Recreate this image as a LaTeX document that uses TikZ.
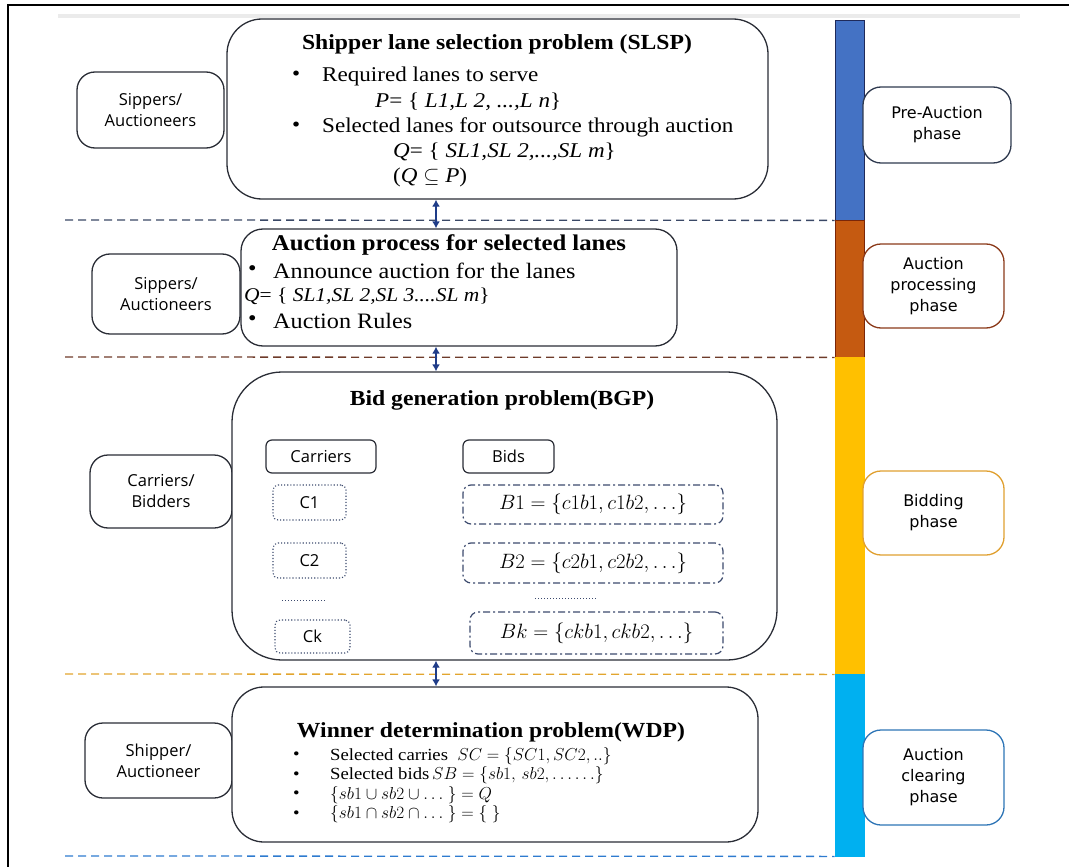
\documentclass[tikz,border=0pt]{standalone}
\usepackage{fontspec}
\setmainfont{Liberation Serif}[FakeStretch=1.1]
\newfontfamily\labelfont{Open Sans}
\newfontfamily\phasefont{DejaVu Sans}
\usetikzlibrary{arrows.meta}

\definecolor{boxline}{HTML}{2A2D36}
\definecolor{arrowblue}{HTML}{1F3C88}
\definecolor{barblue}{HTML}{4472C4}
\definecolor{barorange}{HTML}{C55A11}
\definecolor{baryellow}{HTML}{FFC000}
\definecolor{barcyan}{HTML}{00B0F0}
\definecolor{navyedge}{HTML}{1F2A5A}
\definecolor{rustedge}{HTML}{7A2608}
\definecolor{dashnavy}{HTML}{3A4866}
\definecolor{dashrust}{HTML}{6E3B2A}
\definecolor{dashgold}{HTML}{E2A52E}
\definecolor{dashblue}{HTML}{2E7BCF}
\definecolor{dotline}{HTML}{3C4A6E}
\definecolor{phasenavy}{HTML}{2F3A4F}
\definecolor{phaserust}{HTML}{8B3A1A}
\definecolor{phasegold}{HTML}{E0A030}
\definecolor{phaseblue}{HTML}{2E75B6}

\tikzset{
  mainbox/.style={draw=boxline, line width=1.3pt, rounded corners=#1, inner sep=0pt, fill=white},
  sidebox/.style={draw=boxline, line width=1.3pt, rounded corners=18pt, inner sep=0pt, fill=white,
    align=center, font=\labelfont\fontsize{16.5}{21}\selectfont},
  phasebox/.style={draw=#1, line width=1.3pt, rounded corners=18pt, inner sep=0pt, fill=white,
    align=center, font=\phasefont\fontsize{16}{21}\selectfont},
  barseg/.style={line width=0.8pt, inner sep=0pt, minimum width=29pt},
  divider/.style={line width=1.3pt, dash pattern=on 8pt off 5pt},
  biarrow/.style={draw=arrowblue, line width=1.3pt, {Latex[length=7pt,width=8pt]}-{Latex[length=7pt,width=8pt]}},
  titletext/.style={inner sep=0pt, font=\bfseries\fontsize{21.5}{25}\selectfont},
  bodytext/.style={inner sep=0pt, anchor=west, font=\fontsize{21}{25}\selectfont},
  auctext/.style={inner sep=0pt, anchor=west, font=\fontsize{22}{25}\selectfont},
  wdptext/.style={inner sep=0pt, anchor=west, font=\fontsize{17}{19}\selectfont},
  headbox/.style={draw=boxline, line width=1.2pt, rounded corners=6pt, inner sep=0pt,
    font=\labelfont\fontsize{16.5}{20}\selectfont},
  carrierbox/.style={draw=dotline, line width=1.1pt, dotted, rounded corners=5pt, inner sep=0pt,
    font=\labelfont\fontsize{16.5}{20}\selectfont},
  bidbox/.style={draw=dotline, line width=1.2pt, dash pattern=on 7pt off 3pt on 2pt off 3pt,
    rounded corners=8pt, inner sep=0pt, font=\fontsize{20.5}{24}\selectfont},
  ellipsisline/.style={draw=dotline, line width=1pt, dotted},
}

\begin{document}
\begin{tikzpicture}[x=1pt, y=-1pt]
\useasboundingbox (0,0) rectangle (1069,867);

% page frame and faint top rule
\coordinate (fTR) at (1069,5);
\coordinate (fTL) at (8,5);
\coordinate (fBL) at (8,867);
\draw[line width=1.5pt, black] (fTR) -- (fTL) -- (fBL);
\coordinate (gL) at (58,16);
\coordinate (gR) at (1020,16);
\draw[line width=4pt, black!8] (gL) -- (gR);

% phase bar
\node[barseg, fill=barblue, draw=navyedge, minimum height=200pt] (barA) at (849.5,120) {};
\node[barseg, fill=barorange, draw=rustedge, minimum height=137pt] (barB) at (849.5,288.5) {};
\node[barseg, fill=baryellow, draw=baryellow, minimum height=317pt] (barC) at (849.5,515.5) {};
\node[barseg, fill=barcyan, draw=barcyan, minimum height=182pt] (barD) at (849.5,765) {};

% phase dividers
\coordinate (dA) at (65,220);
\coordinate (dB) at (65,357);
\coordinate (dC) at (65,674);
\coordinate (dD) at (65,856);
\draw[divider, draw=dashnavy] (dA) -- (barA.south west);
\draw[divider, draw=dashrust] (dB) -- (barB.south west);
\draw[divider, draw=dashgold] (dC) -- (barC.south west);
\draw[divider, draw=dashblue] (dD) -- (barD.south west);

% phase labels
\node[phasebox=phasenavy, minimum width=148pt, minimum height=76pt] (phA) at (937,125) {Pre-Auction\\phase};
\node[phasebox=phaserust, minimum width=141pt, minimum height=84pt] (phB) at (933.5,286) {Auction\\processing\\phase};
\node[phasebox=phasegold, minimum width=141pt, minimum height=84pt] (phC) at (933.5,513) {Bidding\\phase};
\node[phasebox=phaseblue, minimum width=141pt, minimum height=95pt] (phD) at (933.5,777.5) {Auction\\clearing\\phase};

% actors
\node[sidebox, minimum width=147pt, minimum height=76pt] (actA) at (150.5,110) {Sippers/\\Auctioneers};
\node[sidebox, minimum width=148pt, minimum height=80pt] (actB) at (166,294) {Sippers/\\Auctioneers};
\node[sidebox, minimum width=142pt, minimum height=73pt] (actC) at (161,491.5) {Carriers/\\Bidders};
\node[sidebox, minimum width=147pt, minimum height=75pt] (actD) at (158.5,760.5) {Shipper/\\Auctioneer};

% stage boxes
\node[mainbox=35pt, minimum width=541pt, minimum height=180pt] (slsp) at (497.5,109) {};
\node[mainbox=22pt, minimum width=436pt, minimum height=117pt] (auc) at (459,287.5) {};
\node[mainbox=50pt, minimum width=545pt, minimum height=288pt] (bgp) at (504.5,516) {};
\node[mainbox=32pt, minimum width=526pt, minimum height=155pt] (wdp) at (495,764.5) {};

% links between stages
\coordinate (ax) at (436,0);
\draw[biarrow] (slsp.south -| ax) -- (auc.north -| ax);
\draw[biarrow] (auc.south -| ax) -- (bgp.north -| ax);
\draw[biarrow] (bgp.south -| ax) -- (wdp.north -| ax);

% shipper lane selection
\node[titletext] (slspT) at (497,44) {Shipper lane selection problem (SLSP)};
\node[bodytext] (slspB1) at (292,76) {\textbullet};
\node[bodytext] (slspL1) at (322,76) {Required lanes to serve};
\node[bodytext] (slspL2) at (375,102) {\textit{P}= \{ \textit{L1,L 2, ...,L n}\}};
\node[bodytext] (slspB2) at (292,127) {\textbullet};
\node[bodytext] (slspL3) at (322,127) {Selected lanes for outsource through auction};
\node[bodytext] (slspL4) at (393,152) {\textit{Q}= \{ \textit{SL1,SL 2,...,SL m}\}};
\node[bodytext] (slspL5) at (393,177) {(\textit{Q} $\subseteq$ \textit{P})};

% auction process
\node[titletext, font=\bfseries\fontsize{22.5}{26}\selectfont] (aucT) at (449,245) {Auction process for selected lanes};
\node[auctext] (aucB1) at (248,271) {\textbullet};
\node[auctext] (aucL1) at (273,271) {Announce auction for the lanes};
\node[bodytext, font=\fontsize{19.5}{24}\selectfont] (aucL2) at (244,296) {\textit{Q}= \{ \textit{SL1,SL 2,SL 3....SL m}\}};
\node[auctext] (aucB2) at (248,321) {\textbullet};
\node[auctext] (aucL3) at (273,321) {Auction Rules};

% bid generation
\node[titletext] (bgpT) at (502,400) {Bid generation problem(BGP)};
\node[headbox, minimum width=110pt, minimum height=33pt] (carH) at (321,456.5) {Carriers};
\node[headbox, minimum width=91pt, minimum height=33pt] (bidH) at (508.5,456.5) {Bids};
\node[carrierbox, minimum width=73pt, minimum height=35pt] (c1) at (309.5,502.5) {C1};
\node[carrierbox, minimum width=73pt, minimum height=35pt] (c2) at (309.5,560.5) {C2};
\node[carrierbox, minimum width=75pt, minimum height=33pt] (ck) at (312.5,636.5) {Ck};
\node[bidbox, minimum width=260pt, minimum height=39pt] (b1) at (593,504.5) {$B1=\{c1b1,c1b2,\ldots\}$};
\node[bidbox, minimum width=260pt, minimum height=40pt] (b2) at (593,563) {$B2=\{c2b1,c2b2,\ldots\}$};
\node[bidbox, minimum width=253pt, minimum height=42pt] (bk) at (596.5,633) {$Bk=\{ckb1,ckb2,\ldots\}$};
\coordinate (eL1) at (282,600);
\coordinate (eL2) at (325,600);
\coordinate (eR1) at (535,598);
\coordinate (eR2) at (597,598);
\draw[ellipsisline] (eL1) -- (eL2);
\draw[ellipsisline] (eR1) -- (eR2);

% winner determination
\node[titletext] (wdpT) at (491,732) {Winner determination problem(WDP)};
\node[wdptext] (wdpB1) at (293,756) {\textbullet};
\node[wdptext] (wdpL1) at (330,756) {Selected carries \ $SC=\{SC1,SC2,..\}$};
\node[wdptext] (wdpB2) at (293,775.5) {\textbullet};
\node[wdptext] (wdpL2) at (330,775.5) {Selected bids\,$SB=\{sb1,\,sb2,\ldots\ldots\}$};
\node[wdptext] (wdpB3) at (293,795) {\textbullet};
\node[wdptext] (wdpL3) at (330,795) {$\{sb1\cup sb2\cup\ldots\ \}=Q$};
\node[wdptext] (wdpB4) at (293,814.5) {\textbullet};
\node[wdptext] (wdpL4) at (330,814.5) {$\{sb1\cap sb2\cap\ldots\ \}=\{\ \}$};
\end{tikzpicture}
\end{document}
